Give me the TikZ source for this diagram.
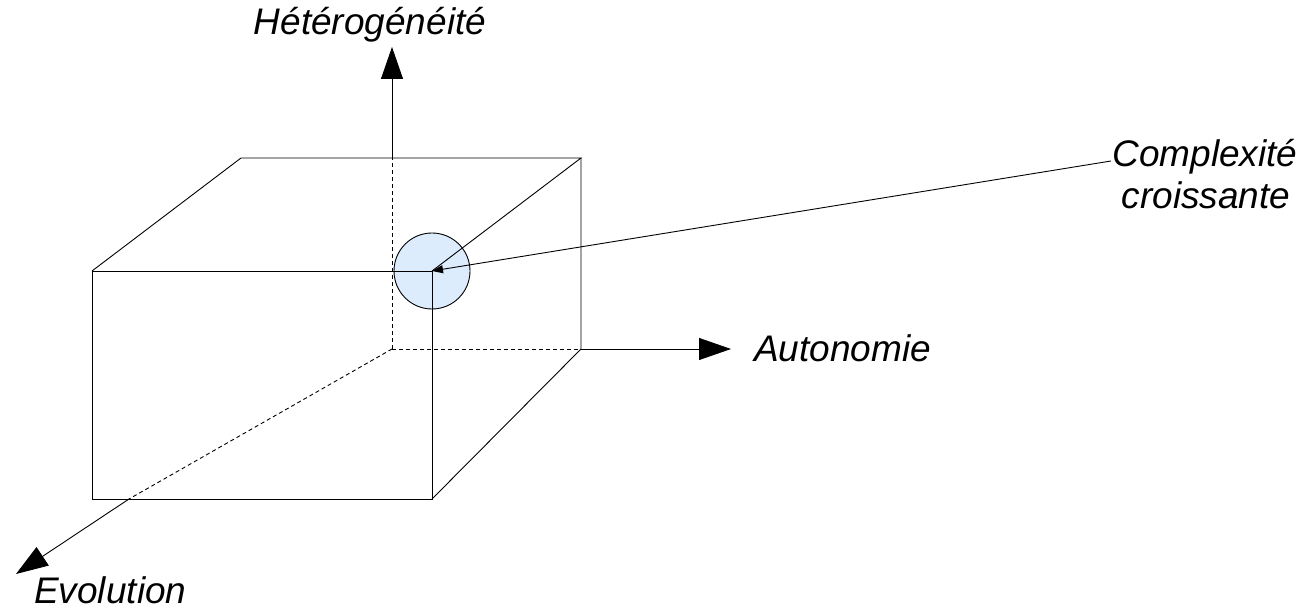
\documentclass[tikz,border=0pt]{standalone}
\usepackage{fontspec}
\setmainfont{Liberation Sans}
\usetikzlibrary{arrows.meta}
\definecolor{bubble}{RGB}{221,236,253}
\tikzset{
  edge/.style={draw=black,line width=0.9pt},
  hidden/.style={draw=black,line width=0.9pt,dash pattern=on 4pt off 3pt},
  axisarrow/.style={draw=black,line width=0.9pt,-{Triangle[length=32pt,width=22pt]}},
  lbl/.style={font=\fontsize{37}{44}\selectfont\itshape,inner sep=0pt},
}
\begin{document}
\begin{tikzpicture}[x=1pt,y=-1pt]
\useasboundingbox (0,0) rectangle (1310,609);
% corners
\coordinate (ftl) at (92,271);
\coordinate (ftr) at (432,271);
\coordinate (fbr) at (432,499);
\coordinate (fbl) at (92,499);
\coordinate (btl) at (241,158);
\coordinate (btr) at (581,158);
\coordinate (bbr) at (581,349);
\coordinate (org) at (392,349);
\coordinate (vtop) at (392,158);
\coordinate (ecross) at (129,499);
% bubble
\node[circle,draw=black,line width=0.9pt,fill=bubble,minimum size=76pt,inner sep=0pt] (bub) at (ftr) {};
% labels
\node[lbl,anchor=base] (het) at (370,35) {Hétérogénéité};
\node[lbl,anchor=base west] (aut) at (754,362) {Autonomie};
\node[lbl,anchor=base west] (evo) at (34,603) {Evolution};
\node[lbl,anchor=base] (cpx) at (1205,167) {Complexité};
\node[lbl,anchor=base] (cro) at (1206,209) {croissante};
\coordinate (htip) at (392,47);
\coordinate (atip) at (731,349);
\coordinate (etip) at (16,574);
\coordinate (cend) at (1111,161);
% cube
\draw[edge] (ftl) rectangle (fbr);
\draw[edge] (ftl) -- (btl) -- (btr) -- (ftr);
\draw[edge] (btr) -- (bbr) -- (fbr);
\draw[hidden] (org) -- (bbr);
\draw[hidden] (org) -- (vtop);
\draw[hidden] (org) -- (ecross);
% axes
\draw[axisarrow] (vtop) -- (htip);
\draw[axisarrow] (bbr) -- (atip);
\draw[axisarrow] (ecross) -- (etip);
% leader
\draw[line width=0.9pt,-{Triangle[length=11pt,width=8pt]}] (cend) -- (ftr);
\end{tikzpicture}
\end{document}
